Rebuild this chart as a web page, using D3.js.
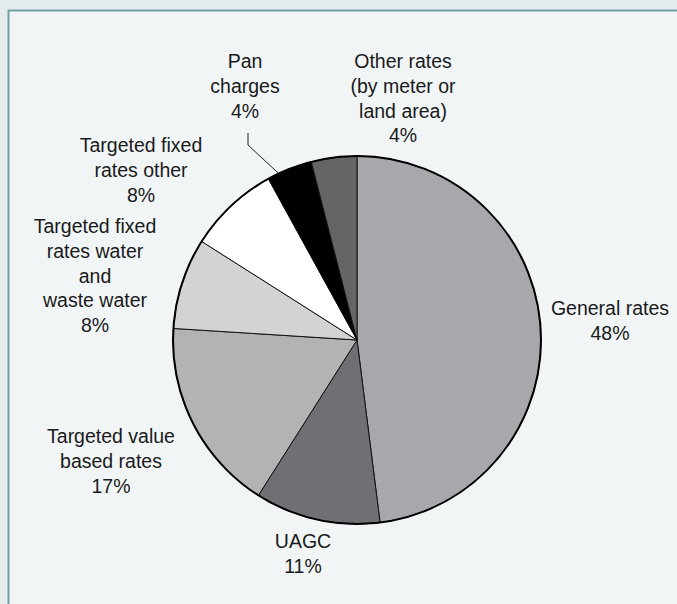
<!DOCTYPE html>
<html>
<head>
<meta charset="utf-8">
<script src="https://cdn.jsdelivr.net/npm/d3@7"></script>
<style>
  html, body { margin: 0; padding: 0; background: #e4ecee; }
  svg { display: block; }
  text { font-family: "Liberation Sans", Arial, sans-serif; font-size: 19.5px; fill: #1a1a1a; }
</style>
</head>
<body>
<svg id="chart" width="677" height="604"></svg>
<script>
// Rates revenue shares (percent), clockwise from 12 o'clock
const categories = [
  "General rates",
  "UAGC",
  "Targeted value based rates",
  "Targeted fixed rates water and waste water",
  "Targeted fixed rates other",
  "Pan charges",
  "Other rates (by meter or land area)"
];
const shares = [48, 11, 17, 8, 8, 4, 4];
const sliceColors = ["#a7a8ab", "#6f7073", "#b1b3b5", "#d2d3d5", "#ffffff", "#000000", "#646567"];

// Multi-line label text for each slice
const labelLines = [
  ["General rates", "48%"],
  ["UAGC", "11%"],
  ["Targeted value", "based rates", "17%"],
  ["Targeted fixed", "rates water", "and", "waste water", "8%"],
  ["Targeted fixed", "rates other", "8%"],
  ["Pan", "charges", "4%"],
  ["Other rates", "(by meter or", "land area)", "4%"]
];
// Label anchor: centre x and first-line baseline y
const labelAnchors = [
  [610, 315],
  [303, 548],
  [111, 443],
  [95, 233],
  [141, 152],
  [245, 68],
  [403, 68]
];
const lineGap = 24.8;

const svg = d3.select("#chart");

// Panel with teal border
svg.append("rect")
  .attr("x", 8.5).attr("y", 10.5)
  .attr("width", 720).attr("height", 640)
  .attr("fill", "#f1f5f6")
  .attr("stroke", "#6e9fa4")
  .attr("stroke-width", 2);

const cx = 357, cy = 340, radius = 184;

const pie = d3.pie().sort(null).value(d => d);
const arcs = pie(shares);
const arcGen = d3.arc().innerRadius(0).outerRadius(radius);

const g = svg.append("g").attr("transform", `translate(${cx},${cy})`);

g.selectAll("path.slice")
  .data(arcs)
  .join("path")
  .attr("class", "slice")
  .attr("d", arcGen)
  .attr("fill", (d, i) => sliceColors[i])
  .attr("stroke", "#111")
  .attr("stroke-width", 1)
  .attr("stroke-linejoin", "round");

// Heavier outer rim
g.append("circle")
  .attr("r", radius)
  .attr("fill", "none")
  .attr("stroke", "#000")
  .attr("stroke-width", 2);

// Leader line for the Pan charges label, ending on the slice's rim
const panArc = arcs[5];
const panAngle = panArc.startAngle + (panArc.endAngle - panArc.startAngle) * 0.25;
const rimPt = [cx + Math.sin(panAngle) * radius, cy - Math.cos(panAngle) * radius];
svg.append("polyline")
  .attr("points", [[248, 133], [248, 145], rimPt].map(p => p.join(",")).join(" "))
  .attr("fill", "none")
  .attr("stroke", "#222")
  .attr("stroke-width", 1);

// Labels
labelLines.forEach((lines, i) => {
  const [lx, ly] = labelAnchors[i];
  const t = svg.append("text").attr("text-anchor", "middle");
  lines.forEach((ln, j) => {
    t.append("tspan").attr("x", lx).attr("y", ly + j * lineGap).text(ln);
  });
});
</script>
</body>
</html>
